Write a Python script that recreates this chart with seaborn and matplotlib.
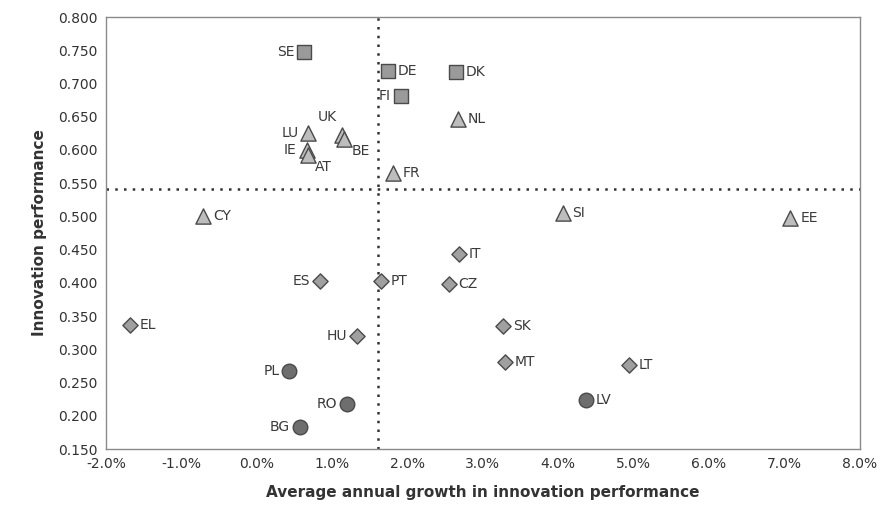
import matplotlib
matplotlib.use("Agg")
import matplotlib.pyplot as plt
import seaborn as sns
import pandas as pd
from matplotlib.ticker import FuncFormatter

# country codes, growth (%), performance, group
countries = ["SE", "DE", "DK", "FI", "NL", "LU", "UK", "BE", "IE", "AT", "FR", "CY", "SI", "EE",
             "IT", "ES", "PT", "CZ", "EL", "SK", "HU", "MT", "LT", "PL", "RO", "LV", "BG"]
growth = [0.63, 1.74, 2.64, 1.91, 2.67, 0.68, 1.13, 1.16, 0.66, 0.68, 1.81, -0.71, 4.06, 7.08,
          2.68, 0.84, 1.65, 2.55, -1.68, 3.27, 1.33, 3.29, 4.94, 0.43, 1.20, 4.37, 0.57]
performance = [0.747, 0.719, 0.717, 0.681, 0.647, 0.625, 0.622, 0.617, 0.600, 0.593, 0.565, 0.501, 0.505, 0.498,
               0.443, 0.403, 0.403, 0.398, 0.337, 0.335, 0.320, 0.281, 0.276, 0.267, 0.218, 0.224, 0.183]
group = ["leader", "leader", "leader", "leader",
         "follower", "follower", "follower", "follower", "follower", "follower",
         "follower", "follower", "follower", "follower",
         "moderate", "moderate", "moderate", "moderate", "moderate", "moderate",
         "moderate", "moderate", "moderate",
         "modest", "modest", "modest", "modest"]

# label placement: r = right, l = left, ul = upper left, br = below right
label_side = ["l", "r", "r", "l", "r", "l", "ul", "br", "l", "br", "r", "r", "r", "r",
              "r", "l", "r", "r", "r", "r", "l", "r", "r", "l", "l", "r", "l"]

avg_growth = 1.61
avg_perf = 0.541

df = pd.DataFrame({"country": countries, "growth": growth,
                   "performance": performance, "group": group})

sns.set_style("white")
fig = plt.figure(figsize=(8.8, 5.27), dpi=100)
ax = fig.add_axes([0.1205, 0.148, 0.8565, 0.8197])

markers = {"leader": "s", "follower": "^", "moderate": "D", "modest": "o"}
colors = {"leader": "#9a9a9a", "follower": "#bdbdbd", "moderate": "#a0a0a0", "modest": "#6e6e6e"}
sizes = {"leader": 110, "follower": 120, "moderate": 60, "modest": 110}

for g in ["leader", "follower", "moderate", "modest"]:
    sub = df[df.group == g]
    sns.scatterplot(data=sub, x="growth", y="performance", marker=markers[g],
                    color=colors[g], s=sizes[g], edgecolor="#4a4a4a", linewidth=1.0,
                    ax=ax, zorder=3, legend=False)

ax.axvline(avg_growth, color="#333333", linestyle=(0, (1, 2.5)), linewidth=1.8, zorder=2)
ax.axhline(avg_perf, color="#333333", linestyle=(0, (1, 2.5)), linewidth=1.8, zorder=2)

offsets = {"r": (7, 0, "left", "center"), "l": (-7, 0, "right", "center"),
           "ul": (-4, 8, "right", "bottom"), "br": (5, -4, "left", "top")}
for c, x, y, side in zip(countries, growth, performance, label_side):
    dx, dy, ha, va = offsets[side]
    ax.annotate(c, (x, y), xytext=(dx, dy), textcoords="offset points",
                ha=ha, va=va, fontsize=10, color="#3a3a3a", zorder=4)

ax.set_xlim(-2.0, 8.0)
ax.set_ylim(0.15, 0.80)
ax.set_xticks([i for i in range(-2, 9)])
ax.set_yticks([0.15 + 0.05 * i for i in range(14)])
ax.xaxis.set_major_formatter(FuncFormatter(lambda v, p: f"{round(v, 1) + 0.0:.1f}%"))
ax.yaxis.set_major_formatter(FuncFormatter(lambda v, p: f"{v:.3f}"))
ax.tick_params(axis="both", labelsize=10, labelcolor="#333333", length=0, pad=6)

for sp in ax.spines.values():
    sp.set_color("#8a8a8a")
    sp.set_linewidth(1.0)

ax.set_xlabel("Average annual growth in innovation performance", fontsize=11,
              fontweight="bold", color="#333333", labelpad=10)
ax.set_ylabel("Innovation performance", fontsize=11, fontweight="bold",
              color="#333333", labelpad=8)

fig.savefig("out.png", dpi=100)
